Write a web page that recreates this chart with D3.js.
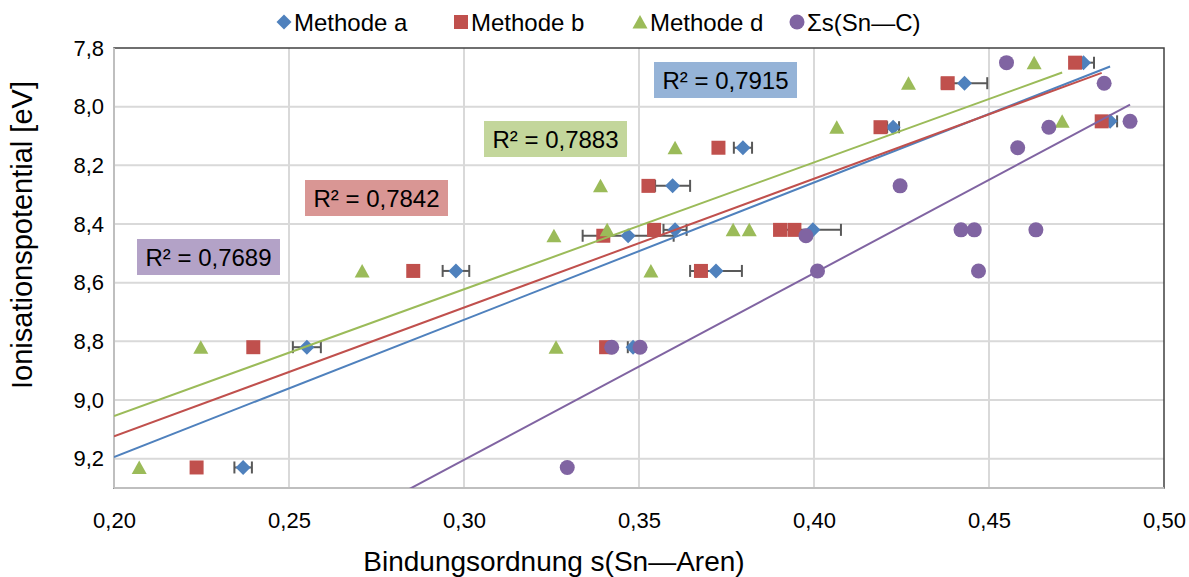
<!DOCTYPE html>
<html><head><meta charset="utf-8">
<script src="https://cdn.jsdelivr.net/npm/d3@7"></script>
<style>
body{margin:0;background:#fff}
svg{display:block;font-family:"Liberation Sans",Arial,sans-serif}
</style>
</head><body>
<svg id="chart" width="1189" height="577"></svg>
<script>
// Methode a (with horizontal error bars)
const aX   = [0.477, 0.443, 0.4846, 0.4226, 0.3797, 0.3596, 0.3469, 0.3603, 0.3997, 0.372, 0.2977, 0.3483, 0.2551, 0.2369];
const aY   = [7.85, 7.92, 8.05, 8.07, 8.14, 8.27, 8.44, 8.42, 8.42, 8.56, 8.56, 8.82, 8.82, 9.23];
const aErr = [0.003, 0.0065, 0.002, 0.0017, 0.0026, 0.005, 0.013, 0.0033, 0.008, 0.0074, 0.0038, 0.0015, 0.004, 0.0025];
// Methode b
const bX = [0.4746, 0.4382, 0.4822, 0.419, 0.3727, 0.3527, 0.3398, 0.3543, 0.3903, 0.3944, 0.3677, 0.2855, 0.3406, 0.2398, 0.2236];
const bY = [7.85, 7.92, 8.05, 8.07, 8.14, 8.27, 8.44, 8.42, 8.42, 8.42, 8.56, 8.56, 8.82, 8.82, 9.23];
// Methode d
const dX = [0.4629, 0.427, 0.4709, 0.4065, 0.3603, 0.339, 0.3257, 0.3409, 0.3769, 0.3815, 0.3534, 0.2709, 0.3263, 0.2248, 0.2072];
const dY = [7.85, 7.92, 8.05, 8.07, 8.14, 8.27, 8.44, 8.42, 8.42, 8.42, 8.56, 8.56, 8.82, 8.82, 9.23];
// Σs(Sn—C)
const sX = [0.455, 0.4829, 0.4903, 0.4671, 0.4582, 0.4246, 0.442, 0.4458, 0.4634, 0.3977, 0.401, 0.447, 0.3422, 0.3503, 0.3295];
const sY = [7.85, 7.92, 8.05, 8.07, 8.14, 8.27, 8.42, 8.42, 8.42, 8.44, 8.56, 8.56, 8.82, 8.82, 9.23];

const seriesNames = ["Methode a", "Methode b", "Methode d", "Σs(Sn—C)"];
const rSquared    = [0.7915, 0.7842, 0.7883, 0.7689];
const xTicks = [0.20, 0.25, 0.30, 0.35, 0.40, 0.45, 0.50];
const yTicks = [7.8, 8.0, 8.2, 8.4, 8.6, 8.8, 9.0, 9.2];
const xTitle = "Bindungsordnung s(Sn—Aren)";
const yTitle = "Ionisationspotential [eV]";

// ---- styling / layout ----
const colors = ["#4F81BD", "#C0504D", "#9BBB59", "#8064A2"];
const boxFill = ["#95B3D7", "#D99694", "#C3D69B", "#B3A2C7"];
const shapes = ["diamond", "square", "triangle", "circle"];
const plot = {left: 114, right: 1164, top: 48, bottom: 488};
// top-left corners of the R² boxes
const boxPos = [[654, 62], [305, 180], [484, 121], [137, 239]];
const legendPos = [284, 461, 640, 797];

const svg = d3.select("#chart");
const x = d3.scaleLinear().domain([0.20, 0.50]).range([plot.left, plot.right]);
const y = d3.scaleLinear().domain([7.8, 9.3]).range([plot.top, plot.bottom]);
const comma = f => v => d3.format(f)(v).replace(".", ",");

svg.append("rect").attr("width", 1189).attr("height", 577).attr("fill", "#fff");

// gridlines
svg.append("g").selectAll("line").data(yTicks.filter(v => v > 7.8)).join("line")
  .attr("x1", plot.left).attr("x2", plot.right)
  .attr("y1", d => y(d)).attr("y2", d => y(d))
  .attr("stroke", "#D9D9D9").attr("stroke-width", 2);
svg.append("g").selectAll("line").data(xTicks.filter(v => v > 0.2 && v < 0.5)).join("line")
  .attr("y1", plot.top).attr("y2", plot.bottom)
  .attr("x1", d => x(d)).attr("x2", d => x(d))
  .attr("stroke", "#D9D9D9").attr("stroke-width", 2);

// plot frame: dark top/right, grey axis lines left/bottom
svg.append("rect").attr("x", plot.left).attr("y", plot.top)
  .attr("width", plot.right - plot.left).attr("height", plot.bottom - plot.top)
  .attr("fill", "none").attr("stroke", "#404040").attr("stroke-width", 1.5);
svg.append("line").attr("x1", plot.left).attr("x2", plot.left).attr("y1", plot.top).attr("y2", plot.bottom)
  .attr("stroke", "#BFBFBF").attr("stroke-width", 2);
svg.append("line").attr("x1", plot.left).attr("x2", plot.right).attr("y1", plot.bottom).attr("y2", plot.bottom)
  .attr("stroke", "#BFBFBF").attr("stroke-width", 2);

// axes
const gx = svg.append("g").attr("transform", `translate(0,${plot.bottom})`)
  .call(d3.axisBottom(x).tickValues(xTicks).tickSize(0).tickPadding(24).tickFormat(comma(".2f")));
const gy = svg.append("g").attr("transform", `translate(${plot.left},0)`)
  .call(d3.axisLeft(y).tickValues(yTicks).tickSize(0).tickPadding(10).tickFormat(comma(".1f")));
[gx, gy].forEach(g => {
  g.select(".domain").remove();
  g.selectAll("text").attr("font-size", 22).attr("fill", "#000")
    .attr("font-family", "Liberation Sans, Arial, sans-serif");
});

// axis titles
svg.append("text").attr("x", 554).attr("y", 571).attr("text-anchor", "middle")
  .attr("font-size", 28).text(xTitle);
svg.append("text").attr("transform", "translate(32,235) rotate(-90)").attr("text-anchor", "middle")
  .attr("font-size", 29).text(yTitle);

// marker path generator
function markerPath(shape) {
  if (shape === "diamond") return "M0,-7.5L7.5,0L0,7.5L-7.5,0Z";
  if (shape === "square") return "M-7,-7H7V7H-7Z";
  if (shape === "triangle") return "M0,-7L7.5,6.5H-7.5Z";
  return d3.symbol(d3.symbolCircle, Math.PI * 7.5 * 7.5)();
}

svg.append("clipPath").attr("id", "plotclip").append("rect")
  .attr("x", plot.left).attr("y", plot.top)
  .attr("width", plot.right - plot.left).attr("height", plot.bottom - plot.top);

const series = [
  {xs: aX, ys: aY, err: aErr},
  {xs: bX, ys: bY},
  {xs: dX, ys: dY},
  {xs: sX, ys: sY}
];

// markers (and error bars for Methode a)
series.forEach((s, i) => {
  const pts = s.xs.map((v, k) => ({x: v, y: s.ys[k], e: s.err ? s.err[k] : 0}));
  const g = svg.append("g");
  if (s.err) {
    const eb = g.append("g").attr("stroke", "#595959").attr("stroke-width", 2);
    pts.forEach(p => {
      const x0 = x(p.x - p.e), x1 = x(p.x + p.e), yy = y(p.y);
      eb.append("line").attr("x1", x0).attr("x2", x1).attr("y1", yy).attr("y2", yy);
      eb.append("line").attr("x1", x0).attr("x2", x0).attr("y1", yy - 6).attr("y2", yy + 6);
      eb.append("line").attr("x1", x1).attr("x2", x1).attr("y1", yy - 6).attr("y2", yy + 6);
    });
  }
  g.selectAll("path.m").data(pts).join("path").attr("class", "m")
    .attr("d", markerPath(shapes[i]))
    .attr("transform", p => `translate(${x(p.x)},${y(p.y)})`)
    .attr("fill", colors[i]);
});

// linear least-squares trendlines
function fit(xs, ys) {
  const mx = d3.mean(xs), my = d3.mean(ys);
  let sxy = 0, sxx = 0;
  xs.forEach((v, k) => { sxy += (v - mx) * (ys[k] - my); sxx += (v - mx) ** 2; });
  const m = sxy / sxx;
  return {m, c: my - m * mx};
}
const trend = svg.append("g").attr("clip-path", "url(#plotclip)");
series.forEach((s, i) => {
  const f = fit(s.xs, s.ys);
  const x0 = 0.20, x1 = d3.max(s.xs);
  trend.append("line")
    .attr("x1", x(x0)).attr("y1", y(f.m * x0 + f.c))
    .attr("x2", x(x1)).attr("y2", y(f.m * x1 + f.c))
    .attr("stroke", colors[i]).attr("stroke-width", 2);
});

// R² labels
rSquared.forEach((r, i) => {
  const [bx, by] = boxPos[i];
  svg.append("rect").attr("x", bx).attr("y", by).attr("width", 143).attr("height", 36)
    .attr("fill", boxFill[i]);
  svg.append("text").attr("x", bx + 71.5).attr("y", by + 26.5).attr("text-anchor", "middle")
    .attr("font-size", 24).attr("fill", "#000")
    .text("R² = " + comma(".4f")(r));
});

// legend
seriesNames.forEach((name, i) => {
  const lx = legendPos[i], ly = 22;
  svg.append("path").attr("d", markerPath(shapes[i]))
    .attr("transform", `translate(${lx},${ly})`).attr("fill", colors[i]);
  svg.append("text").attr("x", lx + 10).attr("y", ly + 8.5).attr("font-size", 24)
    .attr("fill", "#000").text(name);
});
</script>
</body></html>
